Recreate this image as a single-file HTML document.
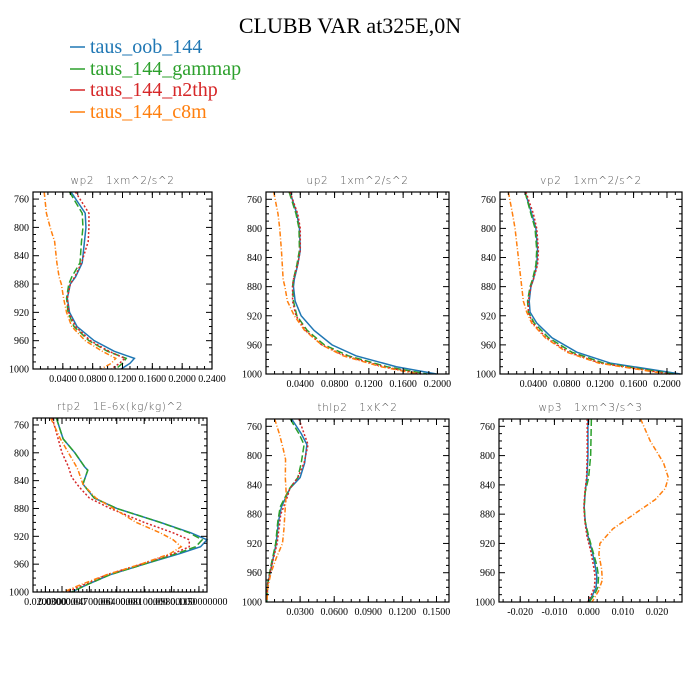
<!DOCTYPE html>
<html><head><meta charset="utf-8"><style>
html,body{margin:0;padding:0;background:#fff;}
svg{display:block;}
.ptitle{white-space:pre;}
</style></head><body>
<svg id="chart" width="700" height="700" viewBox="0 0 700 700" xmlns="http://www.w3.org/2000/svg">
<rect x="0" y="0" width="700" height="700" fill="#fff"/>
<text x="350" y="33" text-anchor="middle" font-family="Liberation Serif, serif" font-size="22" fill="#000">CLUBB VAR at325E,0N</text>
<g font-family="Liberation Serif, serif" font-size="20">
  <g><line x1="70" y1="47" x2="85" y2="47" stroke="#1f77b4" stroke-width="1.5"/><text x="90" y="53" fill="#1f77b4">taus_oob_144</text></g>
  <g><line x1="70" y1="69" x2="85" y2="69" stroke="#2ca02c" stroke-width="1.5"/><text x="90" y="75" fill="#2ca02c">taus_144_gammap</text></g>
  <g><line x1="70" y1="90" x2="85" y2="90" stroke="#d62728" stroke-width="1.5"/><text x="90" y="96" fill="#d62728">taus_144_n2thp</text></g>
  <g><line x1="70" y1="112" x2="85" y2="112" stroke="#ff7f0e" stroke-width="1.5"/><text x="90" y="118" fill="#ff7f0e">taus_144_c8m</text></g>
</g>
<g id="panels"></g>
</svg>
<script>
// ---- shared
const yTicks = [760, 800, 840, 880, 920, 960, 1000];
const yRange = [750, 1000];
// ---- wp2
const wp2_p = [750,780,800,820,850,870,880,900,920,940,960,975,985,992,1000];
const wp2_blue = [0.051,0.070,0.071,0.069,0.066,0.057,0.050,0.046,0.049,0.059,0.082,0.109,0.136,0.130,0.118];
const wp2_green = [0.049,0.066,0.067,0.065,0.063,0.052,0.048,0.045,0.047,0.055,0.075,0.100,0.125,0.120,0.111];
const wp2_red = [0.057,0.075,0.075,0.074,0.065,0.056,0.050,0.046,0.048,0.057,0.077,0.102,0.123,0.116,0.105];
const wp2_orange = [0.015,0.018,0.023,0.029,0.032,0.035,0.038,0.041,0.045,0.052,0.070,0.093,0.111,0.105,0.091];
const wp2_xticks = [0.04,0.08,0.12,0.16,0.20,0.24];
const wp2_xlabels = ["0.0400","0.0800","0.1200","0.1600","0.2000","0.2400"];
// ---- up2
const up2_p = [750,780,800,830,850,870,880,900,920,940,960,975,990,1000];
const up2_blue = [0.028,0.036,0.039,0.040,0.037,0.033,0.032,0.034,0.041,0.056,0.077,0.105,0.152,0.199];
const up2_green = [0.027,0.035,0.0385,0.039,0.036,0.032,0.031,0.032,0.036,0.048,0.068,0.096,0.141,0.188];
const up2_red = [0.028,0.037,0.040,0.040,0.037,0.032,0.031,0.031,0.035,0.046,0.065,0.092,0.137,0.181];
const up2_orange = [0.009,0.014,0.016,0.018,0.019,0.020,0.022,0.025,0.033,0.045,0.065,0.090,0.134,0.177];
const up2_xticks = [0.04,0.08,0.12,0.16,0.20];
const up2_xlabels = ["0.0400","0.0800","0.1200","0.1600","0.2000"];
// ---- vp2
const vp2_p = [750,780,800,830,850,870,880,900,915,930,950,970,985,1000];
const vp2_blue = [0.030,0.038,0.043,0.045,0.044,0.040,0.037,0.035,0.036,0.044,0.062,0.092,0.132,0.216];
const vp2_green = [0.030,0.037,0.042,0.044,0.043,0.039,0.036,0.033,0.034,0.041,0.058,0.086,0.124,0.208];
const vp2_red = [0.031,0.040,0.044,0.046,0.045,0.040,0.037,0.034,0.034,0.039,0.055,0.082,0.120,0.204];
const vp2_orange = [0.010,0.015,0.018,0.021,0.023,0.025,0.026,0.028,0.032,0.038,0.054,0.080,0.118,0.200];
const vp2_xticks = [0.04,0.08,0.12,0.16,0.20];
const vp2_xlabels = ["0.0400","0.0800","0.1200","0.1600","0.2000"];
// ---- rtp2
const rtp2_p = [750,780,800,820,825,845,865,880,900,915,925,935,945,960,975,990,1000];
const rtp2_blue = [0.0265,0.0307,0.038,0.044,0.046,0.043,0.050,0.064,0.091,0.110,0.120,0.116,0.103,0.081,0.060,0.045,0.036];
const rtp2_green = [0.0265,0.0307,0.038,0.044,0.046,0.043,0.050,0.064,0.091,0.109,0.117,0.113,0.101,0.081,0.060,0.045,0.036];
const rtp2_red_p = [750,780,800,820,835,850,865,880,900,915,925,935,945,960,975,990,1000];
const rtp2_red = [0.024,0.0276,0.030,0.034,0.036,0.041,0.047,0.060,0.081,0.099,0.109,0.109,0.099,0.079,0.058,0.043,0.033];
const rtp2_orange = [0.023,0.029,0.034,0.039,0.040,0.043,0.051,0.062,0.076,0.091,0.099,0.104,0.097,0.079,0.058,0.041,0.031];
const rtp2_xticks = [0.0197,0.030,0.047,0.064,0.081,0.098,0.115];
const rtp2_xlabels = ["0.0200000","0.03000000","0.04700000","0.06400000","0.08100000","0.09800000","0.1150000000"];
// ---- thlp2
const thlp2_p = [750,770,785,810,830,845,870,890,920,950,975,1000];
const thlp2_blue = [0.0226,0.031,0.036,0.034,0.030,0.021,0.0136,0.011,0.009,0.005,0.0016,0.0008];
const thlp2_green = [0.0213,0.029,0.0335,0.031,0.028,0.0207,0.0125,0.0104,0.0085,0.0044,0.0014,0.0005];
const thlp2_red_p = [750,770,785,810,830,845,860,880,920,950,975,1000];
const thlp2_red = [0.029,0.0335,0.037,0.0335,0.028,0.021,0.018,0.013,0.0098,0.005,0.0016,0.0005];
const thlp2_orange_p = [750,770,790,805,830,850,870,900,920,940,960,980,1000];
const thlp2_orange = [0.0076,0.0117,0.015,0.0172,0.017,0.0177,0.017,0.0158,0.0145,0.009,0.0044,0.0016,0.0008];
const thlp2_xticks = [0.03,0.06,0.09,0.12,0.15];
const thlp2_xlabels = ["0.0300","0.0600","0.0900","0.1200","0.1500"];
// ---- wp3
const wp3_p = [750,800,830,850,870,890,910,930,950,965,980,990,1000];
const wp3_blue = [-0.0002,-0.0002,-0.0005,-0.001,-0.0013,-0.001,-0.0002,0.001,0.0019,0.0024,0.0022,0.0012,0.0];
const wp3_green = [0.0008,0.0006,0.0,-0.001,-0.0013,-0.001,0.0,0.0012,0.0024,0.0029,0.0027,0.0017,0.0002];
const wp3_red = [-0.0004,-0.0004,-0.0006,-0.0011,-0.0014,-0.0011,-0.0005,0.0006,0.0014,0.0019,0.0017,0.0008,-0.0002];
const wp3_orange_p = [750,780,810,830,845,860,880,900,920,935,955,970,985,1000];
const wp3_orange = [0.0152,0.018,0.0219,0.0233,0.0224,0.0195,0.0133,0.0071,0.0033,0.003,0.0038,0.004,0.0029,0.001];
const wp3_xticks = [-0.02,-0.01,0.0,0.01,0.02];
const wp3_xlabels = ["-0.020","-0.010","0.000","0.010","0.020"];

const COLORS = {blue:"#1f77b4", green:"#2ca02c", red:"#d62728", orange:"#ff7f0e"};
const DASH = {blue:"", green:"7,3", red:"2,2", orange:"5,2,1,2"};
const NS = "http://www.w3.org/2000/svg";
const root = document.getElementById('panels');

const panels = [
 {name:"wp2", title:"wp2   1xm^2/s^2", box:[33,192,212,369], xr:[0,0.24], xt:wp2_xticks, xl:wp2_xlabels,
  series:[["blue",wp2_p,wp2_blue],["green",wp2_p,wp2_green],["red",wp2_p,wp2_red],["orange",wp2_p,wp2_orange]]},
 {name:"up2", title:"up2   1xm^2/s^2", box:[266,192,449,374], xr:[0,0.2135], xt:up2_xticks, xl:up2_xlabels,
  series:[["blue",up2_p,up2_blue],["green",up2_p,up2_green],["red",up2_p,up2_red],["orange",up2_p,up2_orange]]},
 {name:"vp2", title:"vp2   1xm^2/s^2", box:[500,192,682,374], xr:[0,0.218], xt:vp2_xticks, xl:vp2_xlabels,
  series:[["blue",vp2_p,vp2_blue],["green",vp2_p,vp2_green],["red",vp2_p,vp2_red],["orange",vp2_p,vp2_orange]]},
 {name:"rtp2", title:"rtp2   1E-6x(kg/kg)^2", box:[33,418,207,592], xr:[0.012,0.12], xt:rtp2_xticks, xl:rtp2_xlabels,
  series:[["blue",rtp2_p,rtp2_blue],["green",rtp2_p,rtp2_green],["red",rtp2_red_p,rtp2_red],["orange",rtp2_p,rtp2_orange]]},
 {name:"thlp2", title:"thlp2   1xK^2", box:[266,419,449,602], xr:[0,0.161], xt:thlp2_xticks, xl:thlp2_xlabels,
  series:[["blue",thlp2_p,thlp2_blue],["green",thlp2_p,thlp2_green],["red",thlp2_red_p,thlp2_red],["orange",thlp2_orange_p,thlp2_orange]]},
 {name:"wp3", title:"wp3   1xm^3/s^3", box:[499,419,682,602], xr:[-0.0262,0.0273], xt:wp3_xticks, xl:wp3_xlabels,
  series:[["blue",wp3_p,wp3_blue],["green",wp3_p,wp3_green],["red",wp3_p,wp3_red],["orange",wp3_orange_p,wp3_orange]]}
];

function mk(tag, attrs, parent){
  const e = document.createElementNS(NS, tag);
  for (const k in attrs) e.setAttribute(k, attrs[k]);
  parent.appendChild(e);
  return e;
}

panels.forEach(pn => {
  const [x0,y0,x1,y1] = pn.box;
  const sx = v => x0 + (v - pn.xr[0])/(pn.xr[1]-pn.xr[0])*(x1-x0);
  const sy = p => y0 + (p - yRange[0])/(yRange[1]-yRange[0])*(y1-y0);
  const g = mk('g', {}, root);
  
  
  const t = mk('text', {x:(x0+x1)/2, y:y0-8, 'text-anchor':'middle', 'font-family':'DejaVu Sans, sans-serif', 'font-size':'10.5', 'font-weight':'300', fill:'#555', 'letter-spacing':'0.6', class:'ptitle'}, g);
  t.textContent = pn.title;
  
  
  // series
  const sg = mk('g', {}, g);
  
  
  pn.series.forEach(s => {
    const [c, ps, vs] = s;
    const pts = ps.map((p,i) => sx(vs[i]).toFixed(2) + ',' + sy(p).toFixed(2)).join(' ');
    const l = mk('polyline', {points:pts, fill:'none', stroke:COLORS[c], 'stroke-width':'1.5'}, sg);
    if (DASH[c]) l.setAttribute('stroke-dasharray', DASH[c]);
    
    
  });
  // frame
  const fr = mk('rect', {x:x0, y:y0, width:x1-x0, height:y1-y0, fill:'none', stroke:'#000', 'stroke-width':'1.2'}, g);
  
  
  const ax = mk('g', {stroke:'#000', 'stroke-width':'1'}, g);
  
  
  // y ticks
  for (let p = yRange[0]; p <= yRange[1]; p += 10) {
    const y = sy(p);
    const major = yTicks.indexOf(p) >= 0;
    const len = major ? 6 : 3;
    mk('line', {x1:x0, y1:y, x2:x0+len, y2:y}, ax);
    mk('line', {x1:x1, y1:y, x2:x1-len, y2:y}, ax);
  }
  yTicks.forEach(p => {
    const tx = mk('text', {x:x0-4, y:sy(p)+3.5, 'text-anchor':'end', 'font-family':'Liberation Serif, serif', 'font-size':'10', fill:'#000'}, g);
    tx.textContent = String(p);
    
    
  });
  // x ticks
  const step = pn.xt[1]-pn.xt[0];
  const minor = step/4;
  for (let v = pn.xt[0] - Math.floor((pn.xt[0]-pn.xr[0])/minor)*minor; v <= pn.xr[1]+1e-9; v += minor) {
    const x = sx(v);
    if (x < x0-0.1 || x > x1+0.1) continue;
    mk('line', {x1:x, y1:y1, x2:x, y2:y1-3}, ax);
    mk('line', {x1:x, y1:y0, x2:x, y2:y0+3}, ax);
  }
  pn.xt.forEach((v,i) => {
    const x = sx(v);
    mk('line', {x1:x, y1:y1, x2:x, y2:y1-6}, ax);
    mk('line', {x1:x, y1:y0, x2:x, y2:y0+6}, ax);
    const tx = mk('text', {x:x, y:y1+13, 'text-anchor':'middle', 'font-family':'Liberation Serif, serif', 'font-size':'10', fill:'#000'}, g);
    tx.textContent = pn.xl[i];
    
    
  });
});
</script>
</body></html>
